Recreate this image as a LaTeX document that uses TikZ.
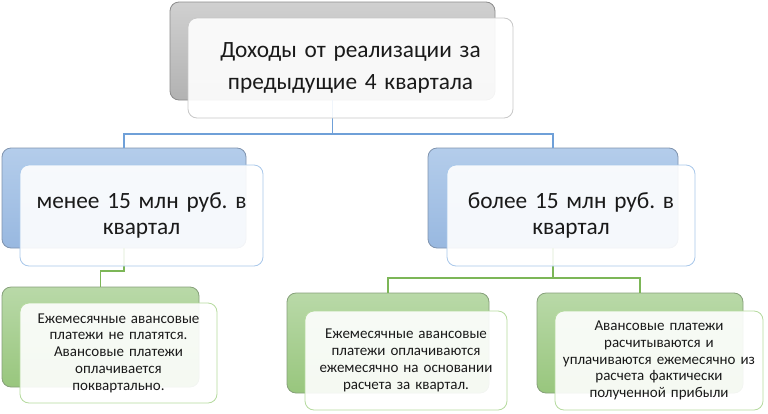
\documentclass[tikz,border=0pt]{standalone}
\usepackage{fontspec}
\setmainfont{Carlito}
\frenchspacing
\definecolor{grayA}{HTML}{D0D0D0}
\definecolor{grayB}{HTML}{B2B2B2}
\definecolor{grayD}{HTML}{8C8C8C}
\definecolor{grayF}{HTML}{C8C8C8}
\definecolor{blueA}{HTML}{B4CDEB}
\definecolor{blueB}{HTML}{98B8E0}
\definecolor{blueD}{HTML}{7F93AE}
\definecolor{blueF}{HTML}{A9C8EA}
\definecolor{blueL}{HTML}{6FA0D8}
\definecolor{greenA}{HTML}{B9D9A8}
\definecolor{greenB}{HTML}{98C67D}
\definecolor{greenD}{HTML}{86A07A}
\definecolor{greenF}{HTML}{B5DA9E}
\definecolor{greenL}{HTML}{7CB657}
\definecolor{txt}{HTML}{1A1A1A}
\tikzset{
  back/.style n args={3}{draw=#3, top color=#1, bottom color=#2, rounded corners=9pt,
    outer sep=0pt, inner sep=0pt, line width=0.8pt},
  front/.style={draw=#1, fill=white, fill opacity=0.9, text opacity=1, rounded corners=9pt,
    outer sep=0pt, inner sep=2pt, line width=0.8pt, align=center, text=txt},
  bigtxt/.style={font=\fontsize{23.3}{25.5}\selectfont},
  smalltxt/.style={font=\fontsize{15}{16.8}\selectfont},
  bline/.style={draw=blueL, line width=1.2pt},
  gline/.style={draw=greenL, line width=1.2pt},
}
\begin{document}
\begin{tikzpicture}[x=1pt,y=1pt]
\useasboundingbox (0,0) rectangle (768,-413);
% back boxes
\node[back={grayA}{grayB}{grayD}, minimum width=325pt, minimum height=98pt] (tb) at (332.5,-51) {};
\node[back={blueA}{blueB}{blueD}, minimum width=244pt, minimum height=100pt] (ml) at (124,-198) {};
\node[back={blueA}{blueB}{blueD}, minimum width=250pt, minimum height=100pt] (mr) at (553,-198) {};
\node[back={greenA}{greenB}{greenD}, minimum width=197pt, minimum height=100pt] (bl) at (100.5,-337) {};
\node[back={greenA}{greenB}{greenD}, minimum width=202pt, minimum height=100pt] (bm) at (388,-343) {};
\node[back={greenA}{greenB}{greenD}, minimum width=206pt, minimum height=100pt] (br) at (640,-343) {};
% connectors
\coordinate (jt) at (332.5,-134);
\coordinate (jl) at (124,-271);
\coordinate (jr) at (553,-278);
\draw[bline] (tb.south) -- (jt) -| (ml.north);
\draw[bline] (jt) -| (mr.north);
\draw[gline] (ml.south) -- (jl) -| (bl.north);
\draw[gline] (mr.south) -- (jr) -| (bm.north);
\draw[gline] (jr) -| (br.north);
% front boxes
\node[front=grayF, bigtxt, minimum width=325pt, minimum height=100pt, text width=310pt] (tf) at (350.5,-68)
  {\vspace*{6pt}Доходы от реализации за\\предыдущие 4 квартала};
\node[front=blueF, bigtxt, minimum width=243pt, minimum height=101pt, text width=236pt] (mlf) at (141.5,-215.5)
  {менее 15 млн руб. в\\квартал};
\node[front=blueF, bigtxt, minimum width=248pt, minimum height=101pt, text width=240pt] (mrf) at (571,-215.5)
  {более 15 млн руб. в\\квартал};
\node[front=greenF, smalltxt, minimum width=197pt, minimum height=100pt, text width=192pt] (blf) at (118.5,-353)
  {Ежемесячные авансовые\\платежи не платятся.\\Авансовые платежи\\оплачивается\\поквартально.};
\node[front=greenF, smalltxt, minimum width=202pt, minimum height=99pt, text width=197pt] (bmf) at (406,-360.5)
  {Ежемесячные авансовые\\платежи оплачиваются\\ежемесячно на основании\\расчета за квартал.};
\node[front=greenF, smalltxt, minimum width=208pt, minimum height=99pt, text width=203pt] (brf) at (659,-360.5)
  {Авансовые платежи\\расчитываются и\\уплачиваются ежемесячно из\\расчета фактически\\полученной прибыли};
\end{tikzpicture}
\end{document}
